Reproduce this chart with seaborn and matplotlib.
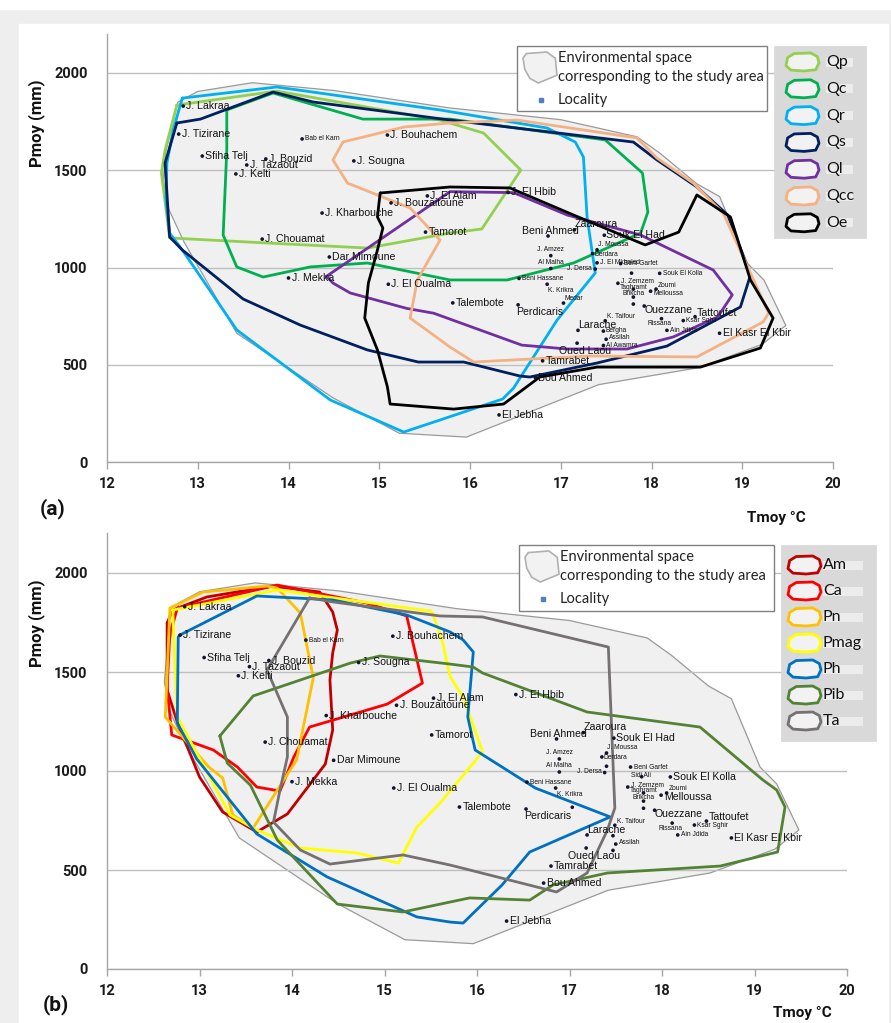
import numpy as np
import pandas as pd
import matplotlib
matplotlib.use("Agg")
import matplotlib.pyplot as plt
from matplotlib.patches import Rectangle, Polygon
import seaborn as sns

sns.set_theme(style="white")
plt.rcParams["font.family"] = ["Liberation Sans", "DejaVu Sans"]

# ---------------- DATA ----------------
# Environmental space of the study area
env_T = [12.62, 12.65, 12.78, 13.0, 13.6, 14.5, 15.78, 17.0, 17.84, 18.1, 18.5, 18.75, 19.06, 19.24, 19.48, 19.22, 18.52, 17.42, 15.96, 15.22, 14.49, 13.43, 12.85, 12.68]
env_P = [1450, 1600, 1850, 1905, 1950, 1910, 1820, 1760, 1672, 1585, 1430, 1365, 1020, 935, 702, 605, 485, 398, 128, 148, 330, 662, 1130, 1300]

# Panel (a) species envelopes
Qp_T = [12.77, 13.87, 15.67, 16.15, 16.56, 16.13, 15.78, 14.87, 13.76, 12.69, 12.6, 12.64]
Qp_P = [1835, 1907, 1758, 1691, 1501, 1198, 1177, 1100, 1126, 1152, 1486, 1604]
Qc_T = [13.32, 13.83, 14.82, 15.78, 17.49, 17.9, 17.96, 17.88, 17.14, 16.41, 15.78, 14.87, 14.24, 13.72, 13.43, 13.28, 13.32]
Qc_P = [1810, 1897, 1763, 1763, 1656, 1486, 1285, 1177, 1023, 936, 936, 1023, 1003, 951, 1003, 1167, 1604]
Qr_T = [12.83, 13.03, 13.87, 15.67, 16.85, 17.16, 17.25, 17.29, 17.38, 16.96, 16.48, 16.36, 15.67, 15.27, 14.46, 13.43, 12.83, 12.69, 12.65, 12.66, 12.73]
Qr_P = [1871, 1882, 1928, 1810, 1717, 1645, 1568, 1260, 972, 730, 380, 324, 216, 154, 319, 679, 1090, 1177, 1347, 1537, 1707]
Qs_T = [12.77, 13.03, 13.83, 14.27, 15.78, 17.8, 18.06, 18.5, 18.84, 19.09, 18.98, 18.17, 17.4, 16.66, 16.55, 15.93, 15.43, 14.87, 14.13, 13.5, 12.83, 12.69, 12.64]
Qs_P = [1743, 1763, 1902, 1851, 1758, 1645, 1553, 1414, 1270, 960, 797, 596, 509, 437, 442, 514, 514, 576, 704, 838, 1090, 1157, 1537]
Ql_T = [14.42, 15.78, 16.48, 17.07, 17.88, 18.68, 18.89, 18.73, 18.24, 17.73, 17.07, 16.57, 15.6, 15.3, 14.68, 14.49]
Ql_P = [955, 1390, 1385, 1270, 1167, 987, 859, 746, 643, 581, 581, 601, 765, 790, 869, 920]
Qcc_T = [14.6, 15.27, 15.78, 16.52, 17.84, 18.06, 18.46, 18.79, 19.11, 19.29, 19.23, 18.5, 17.32, 16.04, 15.78, 15.34, 15.42, 15.67, 15.34, 14.65, 14.49]
Qcc_P = [1645, 1722, 1743, 1758, 1666, 1563, 1434, 1280, 951, 766, 720, 540, 545, 514, 591, 740, 936, 1141, 1306, 1434, 1553]
Oe_T = [15.01, 15.78, 16.44, 17.14, 17.93, 18.3, 18.5, 18.87, 19.09, 19.34, 19.2, 18.54, 17.4, 16.77, 16.37, 15.82, 15.12, 15.09, 14.98, 14.84, 14.88, 14.98, 15.04, 14.98]
Oe_P = [1383, 1414, 1409, 1270, 1116, 1182, 1373, 1260, 936, 740, 586, 488, 488, 437, 298, 272, 298, 386, 576, 740, 920, 1090, 1203, 1260]

# Panel (b) species envelopes
Am_T = [12.65, 12.71, 13.08, 13.79, 14.3, 14.44, 14.49, 14.44, 14.41, 14.44, 14.36, 13.95, 13.62, 13.25, 13.0, 12.76, 12.65]
Am_P = [1747, 1813, 1879, 1934, 1904, 1803, 1712, 1596, 1460, 1207, 1035, 783, 692, 793, 970, 1247, 1409]
Ca_T = [12.68, 12.76, 13.84, 14.81, 15.24, 15.41, 15.03, 14.19, 14.02, 13.87, 13.62, 13.41, 13.15, 12.7, 12.65]
Ca_P = [1697, 1823, 1939, 1848, 1783, 1444, 1338, 1222, 1071, 899, 919, 1020, 1106, 1182, 1424]
Pn_T = [12.63, 12.68, 13.04, 13.73, 13.84, 14.09, 14.23, 14.05, 13.58, 13.36, 13.25, 13.1]
Pn_P = [1273, 1823, 1904, 1934, 1924, 1798, 1470, 1056, 712, 778, 965, 1020]
Pmag_T = [12.71, 13.84, 15.49, 15.52, 15.63, 15.71, 15.85, 16.06, 15.6, 15.35, 15.15, 14.7, 14.09, 13.62, 13.33, 12.76]
Pmag_P = [1813, 1914, 1808, 1798, 1646, 1475, 1374, 1096, 838, 717, 535, 586, 611, 702, 778, 1273]
Ph_T = [12.79, 13.62, 14.44, 15.24, 15.71, 15.85, 15.96, 15.9, 15.98, 16.63, 17.44, 16.57, 16.27, 15.85, 15.71, 15.35, 14.38, 13.62, 12.97, 12.76, 12.77]
Ph_P = [1687, 1884, 1864, 1788, 1702, 1662, 1601, 1273, 1106, 914, 768, 591, 424, 232, 237, 263, 465, 682, 1061, 1242, 1677]
Pib_T = [13.22, 13.58, 14.63, 14.95, 15.71, 15.96, 16.06, 17.19, 18.41, 19.09, 19.24, 19.33, 19.25, 18.63, 17.41, 16.82, 16.57, 15.92, 15.2, 14.49, 13.84, 13.55, 13.3]
Pib_P = [1177, 1379, 1545, 1581, 1540, 1525, 1495, 1298, 1222, 955, 904, 818, 591, 520, 485, 424, 348, 359, 288, 328, 652, 929, 1040]
Ta_T = [14.19, 13.73, 13.95, 13.95, 13.87, 13.8, 14.09, 14.41, 15.2, 15.71, 16.86, 17.19, 17.41, 17.49, 17.42, 16.06, 15.6, 14.44]
Ta_P = [1874, 1510, 1273, 1071, 904, 742, 601, 530, 576, 525, 389, 485, 702, 813, 1626, 1778, 1783, 1854]

# Localities
loc_names = ["J. Lakraa", "J. Tizirane", "Sfiha Telj", "J. Bouzid", "J. Tazaout", "J. Kelti",
             "Bab el Karn", "J. Bouhachem", "J. Sougna", "J. Kharbouche", "J. Bouzaitoune",
             "J. El Alam", "Tamorot", "J. Chouamat", "Dar Mimoune", "J. Mekka", "J. El Oualma",
             "J. El Hbib", "Zaaroura", "Beni Ahmed", "Souk El Had", "J. Moussa", "Derdara",
             "J. Amzez", "Al Malha", "J. Dersa", "J. El Mkhaled", "Beni Garfet", "Sidi Ali",
             "Souk El Kolla", "J. Zemzem", "Taghramt", "Brikcha", "", "Zoumi", "Melloussa",
             "Ouezzane", "Tattoufet", "Rissana", "Ksar Sghir", "Ain Jdida", "El Kasr El Kbir",
             "K. Taifour", "Larache", "Bergha", "Assilah", "Al Awamra", "Oued Laou", "Tamrabet",
             "Bou Ahmed", "El Jebha", "Perdicaris", "Talembote", "Beni Hassane", "K. Krikra", "Medar"]
loc_T = [12.84, 12.79, 13.05, 13.75, 13.54, 13.42, 14.15, 15.09, 14.72, 14.37, 15.13,
         15.53, 15.51, 13.71, 14.45, 14.0, 15.10, 16.42, 17.15, 16.86, 17.48, 17.40, 17.35,
         16.89, 16.89, 17.38, 17.40, 17.66, 17.78, 18.09, 17.63, 17.80, 17.80, 17.80, 18.05, 17.99,
         17.92, 18.48, 18.11, 18.35, 18.17, 18.75, 17.49, 17.19, 17.47, 17.50, 17.47, 17.18, 16.80,
         16.72, 16.32, 16.53, 15.81, 16.54, 16.85, 17.03]
loc_P = [1830, 1686, 1573, 1558, 1527, 1481, 1661, 1681, 1548, 1280, 1332,
         1368, 1182, 1146, 1054, 946, 914, 1386, 1194, 1162, 1166, 1091, 1071,
         1061, 995, 992, 1024, 1020, 971, 970, 919, 889, 848, 812, 889, 878,
         802, 747, 737, 727, 677, 662, 726, 677, 673, 631, 599, 611, 520,
         434, 242, 808, 818, 944, 914, 817]

x_ticks = [12, 13, 14, 15, 16, 17, 18, 19, 20]
y_ticks = [0, 500, 1000, 1500, 2000]

# ---------------- STYLES ----------------
small_top = {"Bab el Karn", "J. Moussa", "Derdara", "J. Amzez", "Al Malha", "J. Dersa", "J. El Mkhaled",
             "Beni Garfet", "Souk El Kolla", "J. Zemzem", "Taghramt", "Brikcha", "Zoumi", "Melloussa",
             "Rissana", "Ksar Sghir", "Ain Jdida", "K. Taifour", "Bergha", "Assilah", "Al Awamra",
             "Beni Hassane", "K. Krikra", "Medar", "Sidi Ali"}
small_bot = small_top - {"Souk El Kolla", "Melloussa"}
hide_top = {"Sidi Ali"}
hide_bot = {"Bergha", "Al Awamra", "Medar", "J. El Mkhaled"}
# label offsets in pixels (dx, dy up, ha)
offs = {"Zaaroura": (0, 6, "left"), "Beni Ahmed": (2, 5, "center"), "J. Amzez": (0, 6, "center"),
        "Al Malha": (0, 6, "center"), "J. Dersa": (-3, 1, "right"), "Sidi Ali": (-1, 1, "center"),
        "Taghramt": (0, 2, "center"), "Brikcha": (0, 4, "center"), "Zoumi": (2, 4, "left"),
        "Rissana": (-2, -5, "center"), "Larache": (0, 5, "left"), "Oued Laou": (8, -8, "center"),
        "Perdicaris": (-2, -7, "left"), "K. Krikra": (1, -6, "left"), "J. Moussa": (1, 5, "left"),
        "Medar": (1, 5, "left"), "Tattoufet": (2, 4, "left"), "K. Taifour": (2, 4, "left"),
        "Ouezzane": (0, -4, "left"), "Melloussa": (3, -2, "left"), "Bergha": (2, 1, "left"),
        "Assilah": (3, 2, "left"), "J. Zemzem": (3, 2, "left"), "Derdara": (2, -1, "left"),
        "Souk El Had": (2, 0, "left"), "J. El Mkhaled": (3, 0, "left")}

W, H = 891, 1023
fig = plt.figure(figsize=(W / 100, H / 100), dpi=100, facecolor="#eeeeee")
bg = fig.add_axes([0, 0, 1, 1], zorder=-10)
bg.set_xlim(0, W); bg.set_ylim(H, 0); bg.axis("off")
bg.add_patch(Rectangle((0, 0), W, 9, color="white"))
bg.add_patch(Rectangle((19, 24), 869, H - 24, color="white"))


def px_axes(l, r, t, b):
    return fig.add_axes([l / W, 1 - b / H, (r - l) / W, (b - t) / H])


axA = px_axes(107, 833, 462 - 2200 * 0.1945, 462)
axB = px_axes(107, 847, 969 - 2200 * 0.198, 969)

lfont = ["Lato", "DejaVu Sans"]
bfont = ["Roboto", "DejaVu Sans"]
tick_kw = dict(family=bfont, fontweight="bold", fontsize=10.5, color="#1a1a1a")


def setup(ax):
    ax.set_facecolor("none")
    ax.fill(env_T, env_P, facecolor="#f0f0f0", edgecolor="#9a9a9a", lw=0.9, zorder=0.2)


def finish(ax):
    ax.set_xlim(12, 20)
    ax.set_ylim(0, 2200)
    ax.set_xticks(x_ticks, [str(v) for v in x_ticks], **tick_kw)
    ax.set_yticks(y_ticks, [str(v) for v in y_ticks], **tick_kw)
    for s in ["top", "right"]:
        ax.spines[s].set_visible(False)
    for s in ["left", "bottom"]:
        ax.spines[s].set_color("#a6a6a6")
        ax.spines[s].set_linewidth(1.0)
    ax.tick_params(axis="x", length=5, width=1, color="#a6a6a6", direction="out", pad=6, bottom=True)
    ax.tick_params(axis="y", length=0, pad=14, left=False)
    ax.set_axisbelow("line")
    ax.yaxis.grid(True, color="#bfbfbf", lw=1.0)
    ax.xaxis.grid(False)
    ax.set_xlabel("")
    ax.set_ylabel("")


def outline(ax, T, P, color):
    df = pd.DataFrame({"T": list(T) + [T[0]], "P": list(P) + [P[0]]})
    sns.lineplot(data=df, x="T", y="P", sort=False, estimator=None, color=color, lw=2.0, ax=ax, zorder=2)


def localities(ax, small, hide):
    df = pd.DataFrame({"T": loc_T, "P": loc_P})
    sns.scatterplot(data=df, x="T", y="P", s=7, color="#14142b", edgecolor="none", ax=ax, zorder=3)
    for n, t, p in zip(loc_names, loc_T, loc_P):
        if not n or n in hide:
            continue
        dx, dy, ha = offs.get(n, (3, 0, "left"))
        fs = 4.8 if n in small else 7.6
        ax.annotate(n, (t, p), xytext=(dx * 0.72, dy * 0.72), textcoords="offset points",
                    ha=ha, va="center", fontsize=fs, color="#111111", zorder=4)


setup(axA)
seriesA = [("Qp", Qp_T, Qp_P, "#92d050"), ("Qc", Qc_T, Qc_P, "#00b050"), ("Qr", Qr_T, Qr_P, "#00b0f0"),
           ("Qs", Qs_T, Qs_P, "#002060"), ("Ql", Ql_T, Ql_P, "#7030a0"), ("Qcc", Qcc_T, Qcc_P, "#f4b183"),
           ("Oe", Oe_T, Oe_P, "#000000")]
for name, T, P, c in seriesA:
    outline(axA, T, P, c)
localities(axA, small_top, hide_top)
finish(axA)

setup(axB)
seriesB = [("Am", Am_T, Am_P, "#c00000"), ("Ca", Ca_T, Ca_P, "#ff0000"), ("Pn", Pn_T, Pn_P, "#ffc000"),
           ("Pmag", Pmag_T, Pmag_P, "#ffff00"), ("Ph", Ph_T, Ph_P, "#0070c0"), ("Pib", Pib_T, Pib_P, "#548235"),
           ("Ta", Ta_T, Ta_P, "#767171")]
for name, T, P, c in seriesB:
    outline(axB, T, P, c)
localities(axB, small_bot, hide_bot)
finish(axB)

# ---------------- OVERLAY (legends, labels) ----------------
ov = fig.add_axes([0, 0, 1, 1], zorder=10)
ov.set_xlim(0, W); ov.set_ylim(H, 0); ov.axis("off")
ov.patch.set_alpha(0)

blob = np.array([(0.05, 0.25), (0.25, 0.03), (0.75, 0.0), (0.95, 0.2), (1.0, 0.55), (0.9, 0.93),
                 (0.55, 1.0), (0.15, 0.95), (0.0, 0.7)])
env_blob = np.array([(0.1, 0.05), (0.7, 0.0), (0.95, 0.2), (1.0, 0.75), (0.45, 1.0), (0.2, 0.85),
                     (0.05, 0.55), (0.0, 0.2)])


def env_legend(x0, y0, x1, y1):
    ov.add_patch(Rectangle((x0, y0), x1 - x0, y1 - y0, facecolor="white", edgecolor="#808080", lw=1.0))
    pts = env_blob * [34, 31] + [x0 + 6, y0 + 6]
    ov.add_patch(Polygon(pts, closed=True, facecolor="#f2f2f2", edgecolor="#b0b0b0", lw=1.2))
    ov.text(x0 + 41, y0 + 12, "Environmental space", fontsize=10.5, family=lfont, va="center", color="#222222")
    ov.text(x0 + 41, y0 + 31, "corresponding to the study area", fontsize=10.5, family=lfont, va="center", color="#222222")
    ov.add_patch(Rectangle((x0 + 22, y0 + 52), 3.5, 3.5, color="#4f81bd"))
    ov.text(x0 + 41, y0 + 54, "Locality", fontsize=10.5, family=lfont, va="center", color="#222222")


def species_legend(x0, y0, x1, y1, series, y_first, step, icon_x, text_x):
    ov.add_patch(Rectangle((x0, y0), x1 - x0, y1 - y0, facecolor="#d9d9d9", edgecolor="#d9d9d9", lw=0.5))
    for i, (name, T, P, c) in enumerate(series):
        yc = y_first + i * step
        pts = blob * [33, 18] + [icon_x, yc - 9]
        ov.add_patch(Polygon(pts, closed=True, facecolor="#f2f2f2", edgecolor=c, lw=2.0, joinstyle="round"))
        ov.add_patch(Rectangle((text_x, yc - 4.5), x1 - text_x - 13, 9, facecolor="#ececec", edgecolor="none"))
        ov.text(text_x, yc, name, fontsize=11.5, family=lfont, va="center", color="#111111")


env_legend(517, 46, 767, 111)
species_legend(774, 46, 866, 238, seriesA, 62, 26.8, 786, 826)
env_legend(519, 545, 774, 611)
species_legend(781, 545, 876, 741, seriesB, 565, 26.0, 788, 823)

bold = dict(family=bfont, weight="bold", color="#111111")
ov.text(37, 123, "Pmoy (mm)", rotation=90, ha="center", va="center", fontsize=12, **bold)
ov.text(37, 623, "Pmoy (mm)", rotation=90, ha="center", va="center", fontsize=12, **bold)
ov.text(53, 509, "(a)", ha="center", va="center", fontsize=15, **bold)
ov.text(56, 1005, "(b)", ha="center", va="center", fontsize=15, **bold)
ov.text(776, 518, "Tmoy °C", ha="center", va="center", fontsize=11, **bold)
ov.text(802, 1013, "Tmoy °C", ha="center", va="center", fontsize=11, **bold)

fig.savefig("out.png", dpi=100, facecolor=fig.get_facecolor())
